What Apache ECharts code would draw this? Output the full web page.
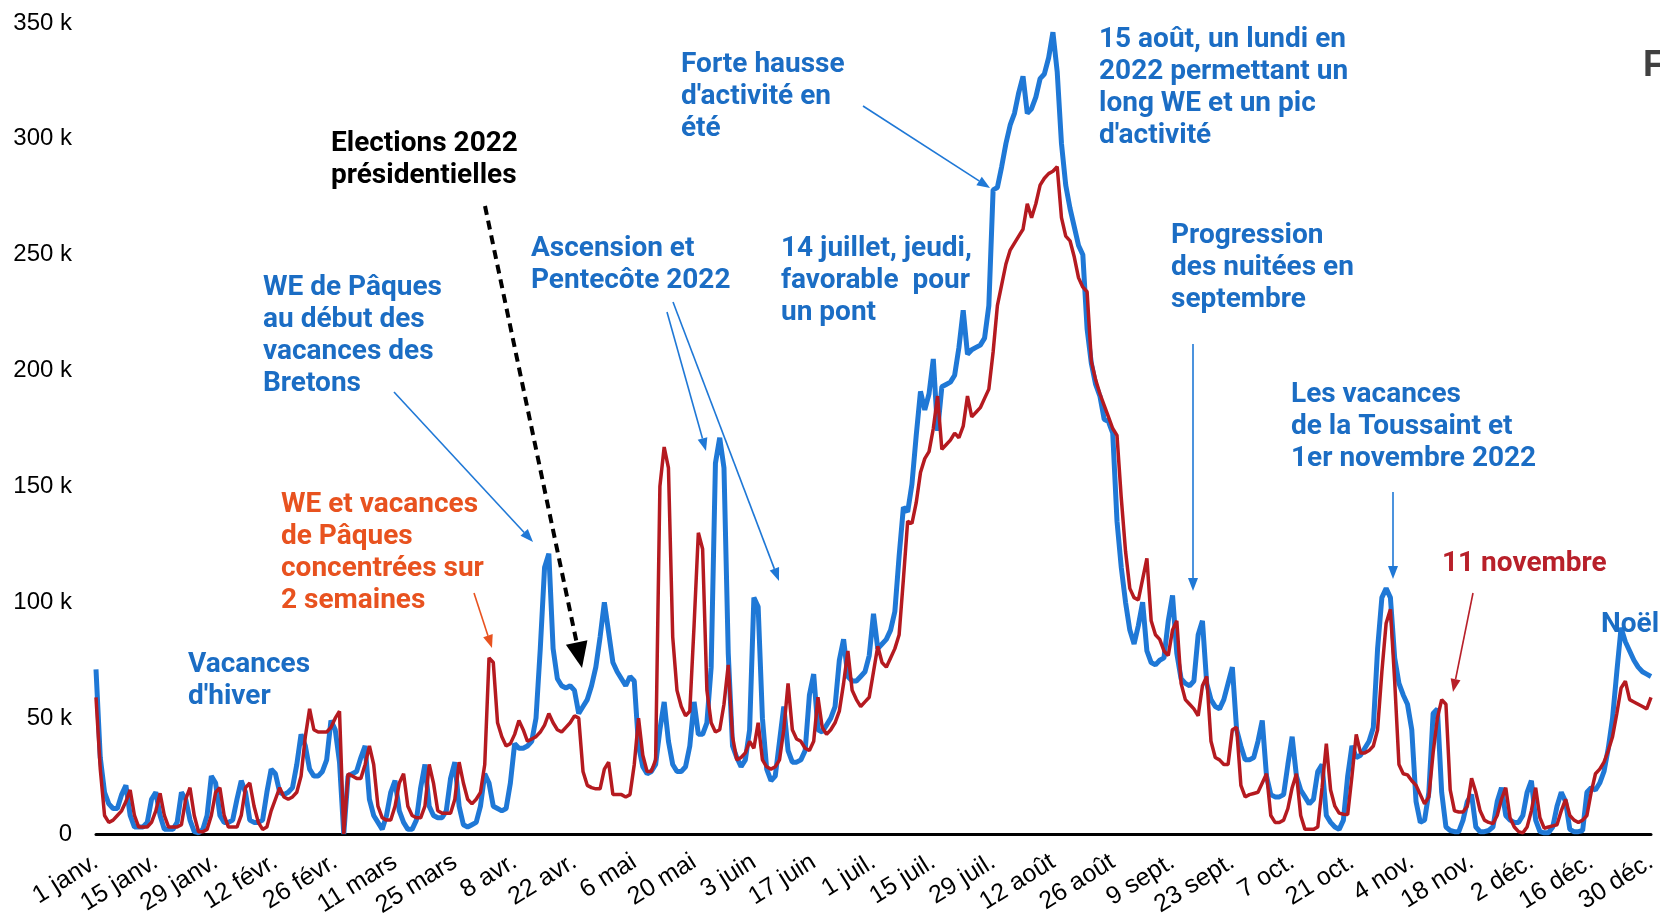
<!DOCTYPE html>
<html><head><meta charset="utf-8">
<script src="https://cdn.jsdelivr.net/npm/echarts@6/dist/echarts.min.js"></script>
<style>html,body{margin:0;padding:0;background:#fff;overflow:hidden}#c{width:1660px;height:913px}</style>
</head><body><div id="c"></div>
<script>
// Tick labels, one every 14 days
const tickLabels = ['1 janv.','15 janv.','29 janv.','12 févr.','26 févr.','11 mars','25 mars','8 avr.','22 avr.','6 mai','20 mai','3 juin','17 juin','1 juil.','15 juil.','29 juil.','12 août','26 août','9 sept.','23 sept.','7 oct.','21 oct.','4 nov.','18 nov.','2 déc.','16 déc.','30 déc.'];

// Daily values, in thousands (blue line)
const serieBleue = [
71,33,18,13,11,11,17, 21,8,3,3,3,5,15, 18,8,2,2,2,5,18, 15,6,1,0.5,2,8,25,
22,8,5,5,6,15,23, 18,6,5,5,6,18,28, 26,18,17,18,20,30,43, 38,28,25,25,27,32,49,
45,31,0,25,26,27,33, 38,15,8,5,2,8,18, 23,10,5,2,2,6,20, 30,12,8,7,7,10,24,
31,12,4,3,4,5,12, 26,22,12,11,10,11,22, 39,37,37,38,40,50,80, 115,121,80,67,64,63,64,
62,52,55,58,64,72,85, 100,87,74,70,67,64,68, 66,38,29,26,27,30,45, 57,40,30,27,27,29,38,
57,43,43,48,72,160,171, 158,78,38,33,29,32,45, 102,98,50,28,23,25,40, 55,36,31,31,32,36,60,
69,45,44,47,50,55,75, 84,68,66,66,68,70,77, 95,80,82,84,88,96,120, 141,139,151,172,191,183,190,
205,174,193,194,195,198,210, 226,207,209,210,211,214,228, 278,279,288,298,306,311,320, 327,311,313,318,326,328,335,
346,329,298,280,270,262,254, 250,218,203,194,189,179,178, 173,135,115,100,88,82,90, 100,79,74,73,75,76,92,
103,78,67,65,64,66,86, 92,65,58,55,54,58,65, 72,45,38,32,32,33,40, 49,25,17,16,16,17,30,
42,25,19,16,13,15,27, 30,8,5,3,2,6,25, 38,33,34,37,40,46,80, 102,106,102,76,65,60,56,
45,14,5,6,18,52,54, 18,3,1.5,1,1,6,14, 17,3,1,1,1.5,3,14, 20,8,6,5,5,8,18,
23,6,1,0.5,0.5,3,12, 18,14,2,1,1,1.5,18, 20,19,22,27,37,50,70, 89,83,79,75,72,70,69,
68
];

// Daily values, in thousands (red line)
const serieRouge = [
59,28,8,5,6,8,10, 14,19,8,3,3,3,5, 10,17.6,8,3,3,3,4, 15,20,8,1,1,2,8,
18,20,8,3,3,3,8, 20,22,12,5,2,3,10, 15,20,16,15,16,18,25, 42,54,45,44,44,44,46,
50,53,0,26,25,24,24, 30,38,30,12,7,6,6, 12,22,26,12,8,7,7, 12,30,22,10,9,9,9,
15,31,22,15,13,15,18, 30,76,74,48,42,38,39, 43,49,45,40,41,42,44, 47,52,48,45,44,46,48,
51,50,27,21,20,19.5,19.5, 28,31,17,17,17,16,17, 30,50,34,27,27,32,150, 167,158,85,62,55,51,53,
90,130,123,62,48,44,45, 56,73,42,32,33,35,40, 37,48,32,29,28,29,32, 45,65,45,41,40,37,36,
40,59,46,43,45,48,53, 65,79,62,58,55,57,59, 70,81,74,72,76,80,86, 110,135,134,143,156,162,165,
175,189,166,168,170,173,171, 176,189,180,182,184,188,192, 208,228,237,246,252,255,258, 261,272,266,272,280,283,285,
286,288,266,258,256,249,240, 236,234,204,196,190,185,180, 175,172,145,122,106,102,101, 110,119,92,86,84,79,77,
88,92,65,58,56,54,51, 64,68,40,33,32,30,30, 45,46,21,16,17,17.5,18, 22,26,8,5,5,6,11,
20,26,8,2,2,2,3, 20,39,19,12,9,8.5,8.4, 25,43,35,35,36,38,45, 70,91,97,66,30,26,25.5,
23,21,17,13,16,35,50, 58,56,19,10,9.5,9.5,12, 24,18,10,6,5,4.5,8, 15,20,7,3,1,0.5,3,
10,20,7,2.5,3,3.5,4, 10,15,8,6,5,6,8, 18,26,28,31,36,42,52, 63,66,58,57,56,55,54,
59
];

// Categories: one per day
const categories = serieBleue.map((_, i) => 'j' + (i + 1));

const BLUE_LINE = '#1f78d6', RED_LINE = '#b51a20';
const BLUE_TXT = '#1b6dc4', ORANGE_TXT = '#e8521f', RED_TXT = '#b8202a';
const ANN_FONT = 'bold 28px Roboto, "Noto Sans", sans-serif';

function txt(x, y, text, color, font) {
  return { type: 'text', x: x, y: y, silent: true, z: 50,
    style: { text: text, fill: color, font: font || ANN_FONT, lineHeight: 32, textVerticalAlign: 'top', textAlign: 'left' } };
}
function arrow(x1, y1, x2, y2, color, w, hl, hw, dash) {
  const a = Math.atan2(y2 - y1, x2 - x1);
  const bx = x2 - hl * Math.cos(a), by = y2 - hl * Math.sin(a);
  const px = -Math.sin(a) * hw / 2, py = Math.cos(a) * hw / 2;
  return [
    { type: 'line', silent: true, z: 50, shape: { x1: x1, y1: y1, x2: bx, y2: by },
      style: { stroke: color, lineWidth: w, lineDash: dash || null } },
    { type: 'polygon', silent: true, z: 50, shape: { points: [[x2, y2], [bx + px, by + py], [bx - px, by - py]] },
      style: { fill: color } }
  ];
}

const graphics = [].concat(
  [txt(331, 128, 'Elections 2022\nprésidentielles', '#000')],
  arrow(485, 206, 582, 668, '#000', 4, 26, 22, [9, 6]),
  [txt(263, 272, 'WE de Pâques\nau début des\nvacances des\nBretons', BLUE_TXT)],
  arrow(394, 392, 533, 542, BLUE_LINE, 1.6, 13, 10),
  [txt(281, 489, 'WE et vacances\nde Pâques\nconcentrées sur\n2 semaines', ORANGE_TXT)],
  arrow(474, 593, 492, 648, ORANGE_TXT, 1.6, 13, 10),
  [txt(188, 649, 'Vacances\nd\'hiver', BLUE_TXT)],
  [txt(531, 233, 'Ascension et\nPentecôte 2022', BLUE_TXT)],
  arrow(667, 312, 706, 451, BLUE_LINE, 1.6, 13, 10),
  arrow(673, 302, 779, 581, BLUE_LINE, 1.6, 13, 10),
  [txt(681, 49, 'Forte hausse\nd\'activité en\nété', BLUE_TXT)],
  arrow(863, 106, 990, 188, BLUE_LINE, 1.6, 13, 10),
  [txt(781, 233, '14 juillet, jeudi,\nfavorable  pour\nun pont', BLUE_TXT)],
  [txt(1099, 24, '15 août, un lundi en\n2022 permettant un\nlong WE et un pic\nd\'activité', BLUE_TXT)],
  [txt(1171, 220, 'Progression\ndes nuitées en\nseptembre', BLUE_TXT)],
  arrow(1193, 344, 1193, 591, BLUE_LINE, 1.6, 13, 10),
  [txt(1291, 379, 'Les vacances\nde la Toussaint et\n1er novembre 2022', BLUE_TXT)],
  arrow(1393, 492, 1393, 579, BLUE_LINE, 1.6, 13, 10),
  [txt(1442, 548, '11 novembre', RED_TXT)],
  arrow(1473, 593, 1453, 692, RED_TXT, 1.6, 13, 10),
  [txt(1601, 609, 'Noël', BLUE_TXT)],
  [txt(1643, 50, 'F', '#404040', 'bold 36px "Liberation Sans", Arial, sans-serif')]
);

const chart = echarts.init(document.getElementById('c'), null, { renderer: 'canvas' });
chart.setOption({
  animation: false,
  backgroundColor: '#fff',
  grid: { left: 96, right: 9, top: 23, bottom: 79, containLabel: false, outerBoundsMode: 'none' },
  xAxis: {
    type: 'category', data: categories, boundaryGap: false,
    axisLine: { show: true, lineStyle: { color: '#000', width: 3 } },
    axisTick: { show: false },
    splitLine: { show: false },
    axisLabel: {
      interval: 13, rotate: 32, margin: 26, fontSize: 25, color: '#000',
      fontFamily: '"Liberation Sans Narrow", "Liberation Sans", Arial, sans-serif',
      formatter: function (v, i) { return i % 14 === 0 ? (tickLabels[i / 14] || '') : ''; }
    }
  },
  yAxis: {
    type: 'value', min: 0, max: 350, interval: 50,
    axisLine: { show: false }, axisTick: { show: false }, splitLine: { show: false },
    axisLabel: {
      margin: 24, fontSize: 24, color: '#000',
      fontFamily: '"Liberation Sans", Arial, sans-serif',
      formatter: function (v) { return v === 0 ? '0' : v + ' k'; }
    }
  },
  series: [
    { name: '2022', type: 'line', data: serieBleue, symbol: 'none', z: 2,
      lineStyle: { color: BLUE_LINE, width: 5 } },
    { name: '2021', type: 'line', data: serieRouge, symbol: 'none', z: 3,
      lineStyle: { color: RED_LINE, width: 3.5 } }
  ],
  graphic: graphics
});
</script>
</body></html>
